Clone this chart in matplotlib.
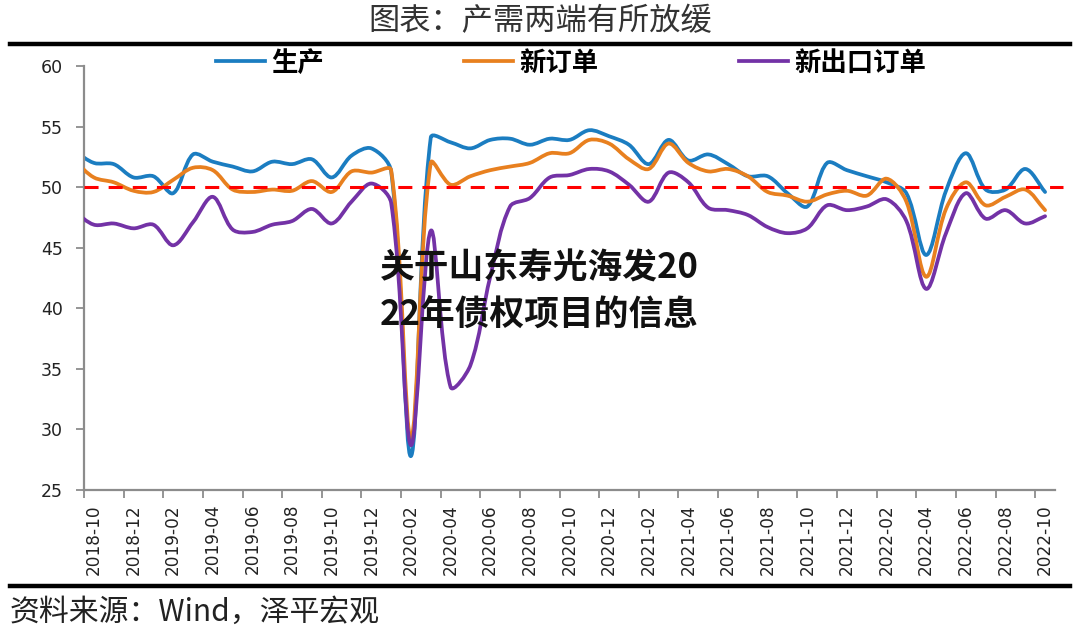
import matplotlib
matplotlib.use('Agg')
import matplotlib.pyplot as plt
from matplotlib.path import Path
from matplotlib.patches import PathPatch
from matplotlib.lines import Line2D
import numpy as np

plt.rcParams['font.family'] = ['Noto Sans CJK SC', 'DejaVu Sans']

# ---------------- data ----------------
months = [
    '2018-09', '2018-10', '2018-11', '2018-12',
    '2019-01', '2019-02', '2019-03', '2019-04', '2019-05', '2019-06',
    '2019-07', '2019-08', '2019-09', '2019-10', '2019-11', '2019-12',
    '2020-01', '2020-02', '2020-03', '2020-04', '2020-05', '2020-06',
    '2020-07', '2020-08', '2020-09', '2020-10', '2020-11', '2020-12',
    '2021-01', '2021-02', '2021-03', '2021-04', '2021-05', '2021-06',
    '2021-07', '2021-08', '2021-09', '2021-10', '2021-11', '2021-12',
    '2022-01', '2022-02', '2022-03', '2022-04', '2022-05', '2022-06',
    '2022-07', '2022-08', '2022-09', '2022-10',
]
production = [
    53.0, 52.0, 51.9, 50.8,
    50.9, 49.5, 52.7, 52.1, 51.7, 51.3, 52.1, 51.9, 52.3, 50.8, 52.6, 53.2,
    51.3, 27.8, 54.1, 53.7, 53.2, 53.9, 54.0, 53.5, 54.0, 53.9, 54.7, 54.2,
    53.5, 51.9, 53.9, 52.2, 52.7, 51.9, 50.9, 50.9, 49.5, 48.4, 52.0, 51.4,
    50.9, 50.4, 49.5, 44.4, 49.7, 52.8, 49.8, 49.8, 51.5, 49.6,
]
new_orders = [
    52.2, 50.8, 50.4, 49.7,
    49.6, 50.6, 51.6, 51.4, 49.8, 49.6, 49.8, 49.7, 50.5, 49.6, 51.3, 51.2,
    51.4, 29.3, 52.0, 50.2, 50.9, 51.4, 51.7, 52.0, 52.8, 52.8, 53.9, 53.6,
    52.3, 51.5, 53.6, 52.0, 51.3, 51.5, 50.9, 49.6, 49.3, 48.8, 49.4, 49.7,
    49.3, 50.7, 48.8, 42.6, 48.2, 50.4, 48.5, 49.2, 49.8, 48.1,
]
export_orders = [
    48.0, 46.9, 47.0, 46.6,
    46.9, 45.2, 47.1, 49.2, 46.5, 46.3, 46.9, 47.2, 48.2, 47.0, 48.8, 50.3,
    48.7, 28.7, 46.4, 33.5, 35.3, 42.6, 48.4, 49.1, 50.8, 51.0, 51.5, 51.3,
    50.2, 48.8, 51.2, 50.4, 48.3, 48.1, 47.7, 46.7, 46.2, 46.6, 48.5, 48.1,
    48.4, 49.0, 47.2, 41.6, 46.2, 49.5, 47.4, 48.1, 47.0, 47.6,
]
series_names = ['生产', '新订单', '新出口订单']
series_colors = ['#1B7DC1', '#E8801F', '#7332A6']
threshold = 50
y_ticks = [25, 30, 35, 40, 45, 50, 55, 60]

title_text = '图表：产需两端有所放缓'
source_text = '资料来源：Wind，泽平宏观'
overlay_lines = ['关于山东寿光海发20', '22年债权项目的信息']

# ---------------- figure ----------------
W, H = 1080, 635
fig = plt.figure(figsize=(W / 100, H / 100), dpi=100)
fig.patch.set_facecolor('white')

ax_left, ax_right, ax_top, ax_bottom = 84, 1055, 66, 490
ax = fig.add_axes([ax_left / W, 1 - ax_bottom / H,
                   (ax_right - ax_left) / W, (ax_bottom - ax_top) / H])

XMIN, XMAX, YMIN, YMAX = -0.5, 48.5, 25, 60
x = np.arange(len(months)) - 1  # 2018-10 at position 0

# pixel scale factors (used only to measure segment lengths for smoothing)
sx = (ax_right - ax_left) / (XMAX - XMIN)
sy = (ax_bottom - ax_top) / (YMAX - YMIN)


def smooth_path(xs, ys, f=1.0 / 3.0):
    pts = np.column_stack([xs, ys]).astype(float)
    scale = np.array([sx, sy])
    n = len(pts)

    def seglen(a, b):
        return np.hypot(*((b - a) * scale))

    verts = [pts[0]]
    codes = [Path.MOVETO]
    for i in range(n - 1):
        p0 = pts[i - 1] if i > 0 else pts[i]
        p1 = pts[i]
        p2 = pts[i + 1]
        p3 = pts[i + 2] if i + 2 < n else pts[i + 1]
        l01, l12, l23 = seglen(p0, p1), seglen(p1, p2), seglen(p2, p3)
        r1 = l12 / (l01 + l12) if (l01 + l12) > 0 else 0
        r2 = l12 / (l12 + l23) if (l12 + l23) > 0 else 0
        c1 = p1 + (p2 - p0) * r1 * f
        c2 = p2 - (p3 - p1) * r2 * f
        verts += [c1, c2, p2]
        codes += [Path.CURVE4] * 3
    return Path(verts, codes)


handles = []
for vals, name, col, z in zip([production, new_orders, export_orders],
                              series_names, series_colors, [2, 3, 4]):
    patch = PathPatch(smooth_path(x, vals), fill=False, edgecolor=col,
                      lw=2.7, capstyle='round', joinstyle='round', zorder=z)
    ax.add_patch(patch)
    handles.append(Line2D([], [], color=col, lw=2.7, label=name))

ax.axhline(threshold, xmin=0, xmax=1.008, color='#FF0000', lw=2.2,
           dashes=(4.6, 3.3), zorder=5, clip_on=False)

ax.set_xlim(XMIN, XMAX)
ax.set_ylim(YMIN, YMAX)

# y axis
ax.set_yticks(y_ticks)
ax.set_yticklabels([str(v) for v in y_ticks], fontsize=12.5,
                   fontfamily='DejaVu Sans', color='#222222')
ax.tick_params(axis='y', direction='out', length=6, width=1.3,
               color='#8C8C8C', pad=9)

# x axis: labels at every second month, ticks between categories
label_pos = list(range(0, 49, 2))
label_txt = [months[p + 1] for p in label_pos]
ax.set_xticks(label_pos)
ax.set_xticklabels(label_txt, rotation=90, fontsize=12.2,
                   fontfamily='DejaVu Sans', color='#222222')
ax.tick_params(axis='x', which='major', length=0, pad=10)
ax.set_xticks([p - 0.5 for p in label_pos], minor=True)
ax.tick_params(axis='x', which='minor', direction='out', length=6,
               width=1.3, color='#8C8C8C')

for s in ['top', 'right']:
    ax.spines[s].set_visible(False)
for s in ['left', 'bottom']:
    ax.spines[s].set_color('#8C8C8C')
    ax.spines[s].set_linewidth(1.6)

# legend
leg = fig.legend(handles=handles, loc='center', ncol=3,
                 bbox_to_anchor=(571 / W, 1 - 63 / H), frameon=False,
                 prop={'family': ['Noto Sans CJK SC', 'DejaVu Sans'],
                       'size': 19, 'weight': 'bold'},
                 handlelength=1.86, handletextpad=0.25, columnspacing=5.3,
                 borderaxespad=0, borderpad=0)

# title and rules
fig.text(540 / W, 1 - 21 / H, title_text, ha='center', va='center',
         fontsize=22.5, color='#333333')
fig.add_artist(Line2D([10 / W, 1070 / W], [1 - 44 / H] * 2,
                      color='black', lw=3.2))
fig.add_artist(Line2D([10 / W, 1070 / W], [1 - 586 / H] * 2,
                      color='black', lw=3.2))

# source
fig.text(10 / W, 1 - 612 / H, source_text, ha='left', va='center',
         fontsize=21.5, style='italic', color='#222222')

# overlay text
fig.text(380 / W, 1 - 268 / H, overlay_lines[0], ha='left', va='center',
         fontsize=25, weight='bold', color='#111111', zorder=10)
fig.text(380 / W, 1 - 315 / H, overlay_lines[1], ha='left', va='center',
         fontsize=25, weight='bold', color='#111111', zorder=10)

fig.savefig('out.png', dpi=100, facecolor='white')
